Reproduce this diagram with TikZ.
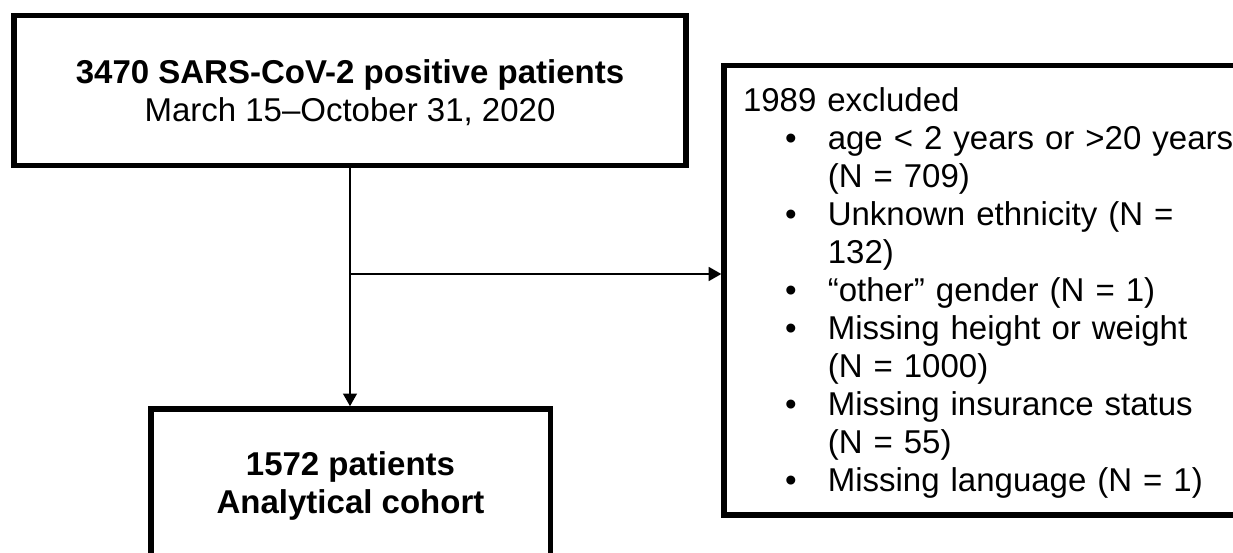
\documentclass[tikz,border=0pt]{standalone}
\usepackage{fontspec}
\setmainfont{Liberation Sans}
\usetikzlibrary{arrows.meta}
\newcommand{\itm}{\hspace*{31.6pt}\makebox[32pt][l]{\textbullet}}
\newcommand{\cnt}{\hspace*{63.6pt}}
\newcommand{\tall}{\rule{0pt}{21.5pt}}

\begin{document}
\begin{tikzpicture}[x=0.75pt, y=-0.75pt,
  box/.style={draw=black, line width=4pt, inner sep=0pt, font=\fontsize{24.75}{28.5}\selectfont},
  arr/.style={-{Triangle[length=9.5pt, width=10.5pt]}, line width=1.1pt}]
  \path[use as bounding box, clip] (0,0) rectangle (1233,553);
  % Nodes
  \node[box, minimum width=504pt, minimum height=112.5pt, align=center] (positive) at (350,90.5)
    {\tall\textbf{3470 SARS-CoV-2 positive patients}\\March 15–October 31, 2020};
  \node[box, minimum height=337pt, text width=376.5pt, inner xsep=14.25pt, align=left] (excluded) at (994,290.25)
    {\tall1989 excluded\\
     \itm age < 2 years or >20 years\\
     \cnt (N = 709)\\
     \itm Unknown ethnicity (N =\\
     \cnt 132)\\
     \itm “other” gender (N = 1)\\
     \itm Missing height or weight\\
     \cnt (N = 1000)\\
     \itm Missing insurance status\\
     \cnt (N = 55)\\
     \itm Missing language (N = 1)};
  \node[box, minimum width=299.5pt, minimum height=112pt, align=center, font=\fontsize{24.75}{28.5}\selectfont\bfseries] (cohort) at (350.5,483.5)
    {\tall1572 patients\\Analytical cohort};
  \coordinate (branch) at (350,274);

  % Arrows
  \draw[arr] (positive.south) -- (positive.south |- cohort.north);
  \draw[arr] (branch) -- (branch -| excluded.west);
\end{tikzpicture}
\end{document}
